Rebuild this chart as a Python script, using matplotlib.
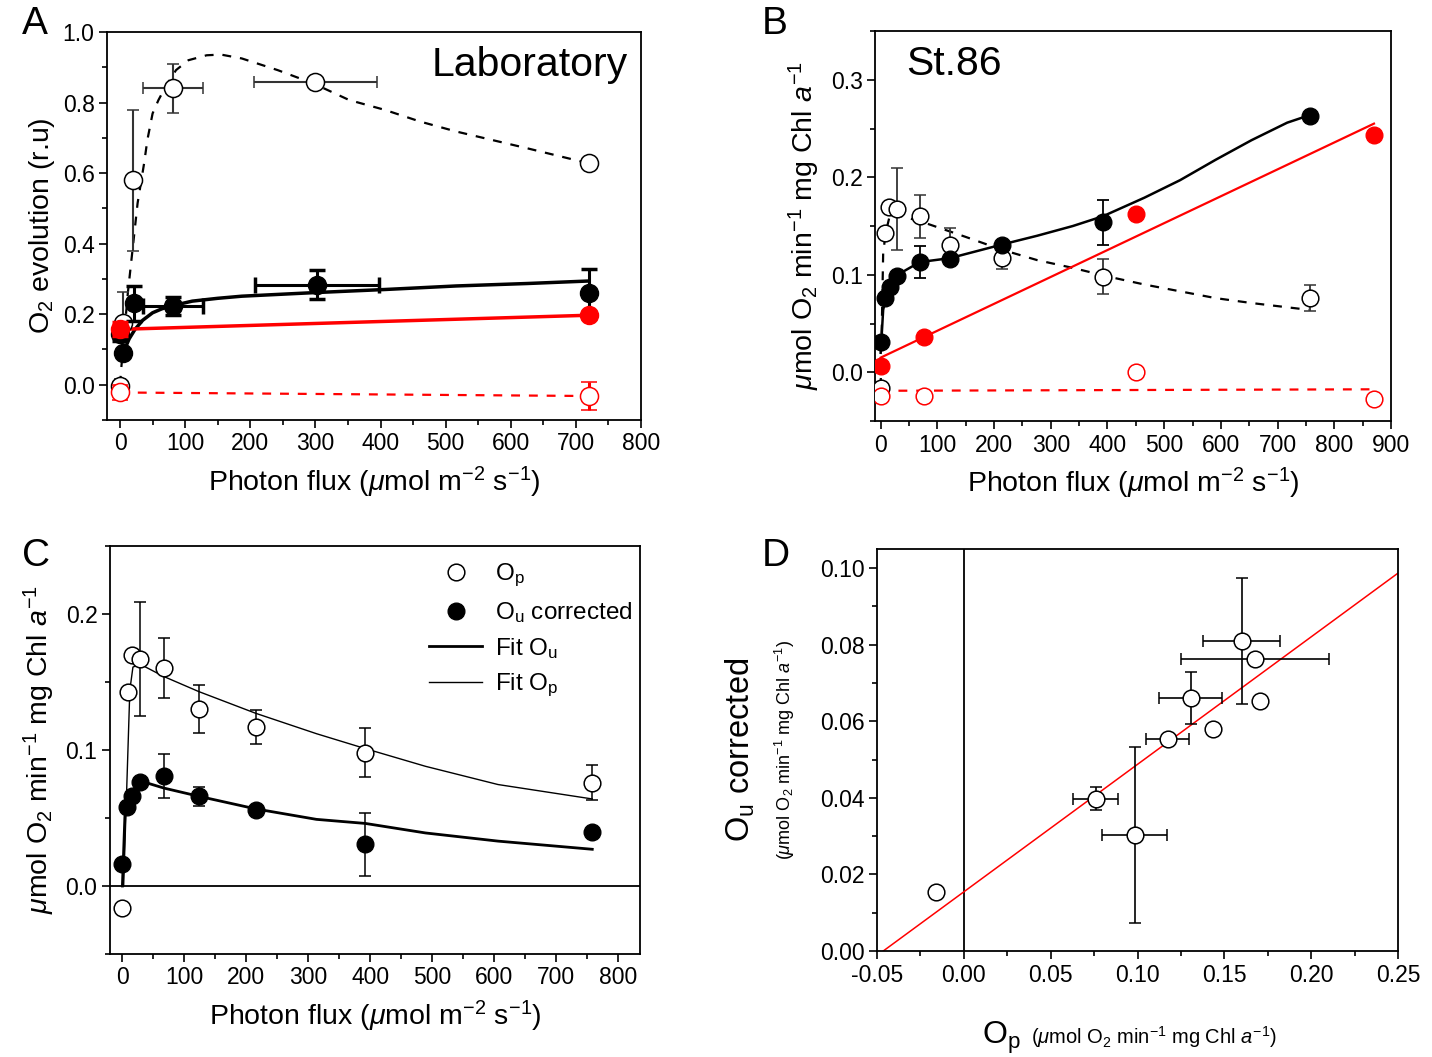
import matplotlib
matplotlib.use("Agg")
import matplotlib.pyplot as plt
from matplotlib.ticker import MultipleLocator

plt.rcParams['font.family'] = ['Liberation Sans', 'DejaVu Sans']
plt.rcParams['mathtext.fontset'] = 'custom'
plt.rcParams['mathtext.rm'] = 'Liberation Sans'
plt.rcParams['mathtext.it'] = 'Liberation Sans:italic'
plt.rcParams['mathtext.default'] = 'regular'

# ----------------------- panel A (laboratory, relative units)
a_open_x = [0, 5, 20, 82, 300, 720]
a_open_y = [-0.005, 0.174, 0.58, 0.84, 0.857, 0.63]
a_open_yerr = [0.02, 0.09, 0.2, 0.07, 0.01, 0.01]
a_open_xerr = [0, 0, 0, 46, 95, 5]
a_fill_x = [0, 5, 21, 82, 302, 720]
a_fill_y = [0.143, 0.091, 0.231, 0.223, 0.284, 0.259]
a_fill_yerr = [0.02, 0, 0.05, 0.025, 0.042, 0.07]
a_fill_xerr = [0, 0, 0, 46, 95, 0]
a_red_x = [0, 720]
a_red_y = [0.158, 0.197]
a_red_yerr = [0.02, 0.0]
a_redo_x = [0, 720]
a_redo_y = [-0.022, -0.033]
a_redo_yerr = [0.02, 0.04]

a_dash_x = [0, 2, 12, 27, 37, 42, 50, 59, 70, 86, 105, 133, 155, 187, 242, 297,
            352, 407, 461, 516, 571, 626, 719]
a_dash_y = [0.0, 0.049, 0.26, 0.515, 0.628, 0.694, 0.769, 0.807, 0.845, 0.892, 0.92,
            0.934, 0.936, 0.925, 0.892, 0.854, 0.807, 0.779, 0.746, 0.718, 0.694,
            0.670, 0.628]
a_fit_x = [5, 7, 14, 23, 35, 50, 64, 78, 111, 150, 187, 297, 407, 516, 626, 719]
a_fit_y = [0.07, 0.10, 0.13, 0.157, 0.183, 0.204, 0.215, 0.223, 0.237, 0.245, 0.251,
           0.261, 0.270, 0.280, 0.287, 0.294]
a_redfit_x = [0, 720]
a_redfit_y = [0.157, 0.197]
a_reddash_x = [0, 720]
a_reddash_y = [-0.022, -0.032]

# ----------------------- panel B (St.86)
b_fill_x = [0, 7.6, 16, 28, 69, 122, 214, 392, 758]
b_fill_y = [0.031, 0.076, 0.087, 0.099, 0.113, 0.116, 0.131, 0.154, 0.263]
b_fill_yerr = [0, 0, 0, 0, 0.016, 0, 0, 0.023, 0]
b_open_x = [0, 7.6, 15, 28, 69, 122, 214, 392, 758]
b_open_y = [-0.016, 0.143, 0.170, 0.167, 0.160, 0.131, 0.117, 0.098, 0.076]
b_open_yerr = [0.004, 0.004, 0, 0.042, 0.022, 0.0165, 0.011, 0.018, 0.013]
b_red_x = [0, 76, 450, 870]
b_red_y = [0.006, 0.036, 0.162, 0.243]
b_redo_x = [0, 76, 450, 870]
b_redo_y = [-0.024, -0.024, 0.0, -0.027]

b_fit_x = [0, 4.4, 14, 30, 69, 122, 214, 276, 339, 392, 465, 528, 591, 654, 717, 758]
b_fit_y = [0.02, 0.064, 0.088, 0.100, 0.113, 0.117, 0.131, 0.140, 0.150, 0.160,
           0.179, 0.197, 0.218, 0.238, 0.256, 0.264]
b_dash_x = [0, 4.4, 8.8, 17, 69, 149, 212, 276, 339, 402, 465, 528, 591, 654, 755]
b_dash_y = [-0.015, 0.122, 0.143, 0.163, 0.155, 0.139, 0.126, 0.115, 0.107, 0.098,
            0.090, 0.083, 0.076, 0.071, 0.064]
b_redfit_x = [0, 870]
b_redfit_y = [0.015, 0.255]
b_reddash_x = [0, 862]
b_reddash_y = [-0.019, -0.0175]

# ----------------------- panel C (Op and Ou corrected)
c_op_x = [0, 8.8, 16, 29, 67, 123, 215, 392, 758]
c_op_y = [-0.016, 0.143, 0.170, 0.167, 0.160, 0.130, 0.117, 0.098, 0.076]
c_op_yerr = [0, 0, 0, 0.042, 0.022, 0.0175, 0.0125, 0.018, 0.013]
c_ou_x = [0, 7.6, 16, 29, 67, 123, 215, 392, 758]
c_ou_y = [0.016, 0.058, 0.066, 0.0765, 0.081, 0.066, 0.0557, 0.0306, 0.040]
c_ou_yerr = [0, 0, 0, 0, 0.016, 0.007, 0, 0.023, 0]

c_fitop_x = [2, 12, 17, 29, 67, 123, 215, 313, 392, 489, 606, 758]
c_fitop_y = [0.0, 0.144, 0.161, 0.163, 0.154, 0.143, 0.127, 0.112, 0.101, 0.088,
             0.0746, 0.064]
c_fitou_x = [0, 4, 7.6, 16, 38, 67, 123, 215, 313, 392, 489, 606, 758]
c_fitou_y = [0.0, 0.051, 0.059, 0.067, 0.076, 0.072, 0.066, 0.0567, 0.049, 0.046,
             0.039, 0.033, 0.027]

# ----------------------- panel D (Ou vs Op)
d_x = [-0.0162, 0.0759, 0.0983, 0.1173, 0.1306, 0.1435, 0.160, 0.1678, 0.1705]
d_y = [0.0155, 0.0398, 0.0303, 0.0555, 0.0661, 0.0579, 0.0809, 0.0763, 0.0653]
d_xerr = [0, 0.013, 0.0185, 0.0125, 0.018, 0, 0.022, 0.0425, 0]
d_yerr = [0, 0.003, 0.023, 0.001, 0.0068, 0, 0.0164, 0.001, 0]
d_fit_x = [-0.0464, 0.25]
d_fit_y = [0.0, 0.0987]

UNIT = r'$\mathit{\mu}$mol O$_2$ min$^{-1}$ mg Chl $\mathit{a}^{-1}$'
FLUX = r'Photon flux ($\mathit{\mu}$mol m$^{-2}$ s$^{-1}$)'
TICK_FS = 16.5
LAB_FS = 20.5


def style_axis(ax, xmaj, xmin, ymaj, ymin):
    ax.xaxis.set_major_locator(MultipleLocator(xmaj))
    ax.xaxis.set_minor_locator(MultipleLocator(xmin))
    ax.yaxis.set_major_locator(MultipleLocator(ymaj))
    ax.yaxis.set_minor_locator(MultipleLocator(ymin))
    ax.tick_params(which='both', direction='out', top=False, right=False,
                   labelsize=TICK_FS)
    ax.tick_params(which='major', length=6, width=1.2, pad=3)
    ax.tick_params(which='minor', length=3.5, width=1.2)
    for s in ax.spines.values():
        s.set_linewidth(1.3)


def panel_a(ax):
    ax.plot(a_dash_x, a_dash_y, 'k--', lw=1.6, dashes=(4, 4), zorder=2)
    ax.plot(a_fit_x, a_fit_y, 'k-', lw=2.5, zorder=2)
    ax.plot(a_redfit_x, a_redfit_y, '-', color='red', lw=2.5, zorder=2)
    ax.plot(a_reddash_x, a_reddash_y, '--', color='red', lw=1.6, dashes=(4, 4), zorder=2)
    ax.errorbar(a_open_x, a_open_y, yerr=a_open_yerr, xerr=a_open_xerr, fmt='o',
                mfc='white', mec='black', ms=13, mew=1.1, ecolor='#333333',
                elinewidth=1.5, capsize=4, capthick=1.5, zorder=3)
    ax.errorbar(a_fill_x, a_fill_y, yerr=a_fill_yerr, xerr=a_fill_xerr, fmt='o',
                color='black', ms=13, elinewidth=2.2, capsize=6, capthick=2.5, zorder=4)
    ax.errorbar(a_redo_x, a_redo_y, yerr=a_redo_yerr, fmt='o', mfc='white',
                mec='red', ecolor='red', ms=13, mew=1.1, elinewidth=2.2, capsize=6,
                capthick=2.5, zorder=4)
    ax.errorbar(a_red_x, a_red_y, yerr=a_red_yerr, fmt='o', color='red', ms=13,
                elinewidth=2.2, capsize=6, capthick=2.5, zorder=5)
    ax.set_xlim(-20, 800)
    ax.set_ylim(-0.1, 1.0)
    style_axis(ax, 100, 50, 0.2, 0.1)
    ax.set_xlabel(FLUX, fontsize=LAB_FS, labelpad=7)
    ax.set_ylabel('O$_2$ evolution (r.u)', fontsize=LAB_FS, labelpad=4)
    ax.text(0.975, 0.965, 'Laboratory', transform=ax.transAxes, ha='right', va='top',
            fontsize=29.5)


def panel_b(ax):
    ax.plot(b_dash_x, b_dash_y, 'k--', lw=1.6, dashes=(4, 4), zorder=2)
    ax.plot(b_fit_x, b_fit_y, 'k-', lw=1.8, zorder=2)
    ax.plot(b_redfit_x, b_redfit_y, '-', color='red', lw=1.6, zorder=2)
    ax.plot(b_reddash_x, b_reddash_y, '--', color='red', lw=1.6, dashes=(4, 4), zorder=2)
    ax.errorbar(b_open_x, b_open_y, yerr=b_open_yerr, fmt='o', mfc='white',
                mec='black', ms=12, mew=1.1, ecolor='#333333', elinewidth=1.3,
                capsize=4, capthick=1.3, zorder=3)
    ax.errorbar(b_fill_x, b_fill_y, yerr=b_fill_yerr, fmt='o', color='black', ms=12,
                elinewidth=1.3, capsize=4, capthick=1.3, zorder=4)
    ax.plot(b_redo_x, b_redo_y, 'o', mfc='white', mec='red', ms=12, mew=1.1, zorder=4)
    ax.plot(b_red_x, b_red_y, 'o', color='red', ms=12, zorder=5)
    ax.set_xlim(-10, 900)
    ax.set_ylim(-0.05, 0.35)
    style_axis(ax, 100, 50, 0.1, 0.05)
    ax.set_xlabel(FLUX, fontsize=LAB_FS, labelpad=7)
    ax.set_ylabel(UNIT, fontsize=LAB_FS, labelpad=6)
    ax.text(0.06, 0.965, 'St.86', transform=ax.transAxes, ha='left', va='top',
            fontsize=29.5)


def panel_c(ax):
    ax.axhline(0, color='black', lw=1.3, zorder=1)
    fu, = ax.plot(c_fitou_x, c_fitou_y, 'k-', lw=2.0, zorder=2)
    fp, = ax.plot(c_fitop_x, c_fitop_y, 'k-', lw=1.0, zorder=2)
    eo = ax.errorbar(c_op_x, c_op_y, yerr=c_op_yerr, fmt='o', mfc='white', mec='black',
                     ms=12, mew=1.1, ecolor='black', elinewidth=1.1, capsize=4,
                     capthick=1.1, zorder=3)
    ef = ax.errorbar(c_ou_x, c_ou_y, yerr=c_ou_yerr, fmt='o', color='black', ms=12,
                     elinewidth=1.1, capsize=4, capthick=1.1, zorder=4)
    ax.legend([eo[0], ef[0], fu, fp],
              ['O$_p$', 'O$_u$ corrected', 'Fit O$_u$', 'Fit O$_p$'],
              loc='upper right', bbox_to_anchor=(1.017, 1.003), frameon=False,
              fontsize=17.5, handlelength=2.2, handletextpad=0.5, labelspacing=0.45,
              borderaxespad=0.3)
    ax.set_xlim(-20, 835)
    ax.set_ylim(-0.05, 0.25)
    style_axis(ax, 100, 50, 0.1, 0.05)
    ax.set_xlabel(FLUX, fontsize=LAB_FS, labelpad=7)
    ax.set_ylabel(UNIT, fontsize=LAB_FS, labelpad=6)


def panel_d(ax):
    ax.axvline(0, color='black', lw=1.3, zorder=1)
    ax.plot(d_fit_x, d_fit_y, '-', color='red', lw=1.1, zorder=2)
    ax.errorbar(d_x, d_y, yerr=d_yerr, xerr=d_xerr, fmt='o', mfc='white', mec='black',
                ms=12, mew=1.1, ecolor='black', elinewidth=1.2, capsize=4,
                capthick=1.2, zorder=3)
    ax.set_xlim(-0.05, 0.25)
    ax.set_ylim(0, 0.105)
    style_axis(ax, 0.05, 0.025, 0.02, 0.01)
    ax.xaxis.set_major_formatter(plt.FuncFormatter(lambda v, p: f'{v:.2f}'))
    ax.yaxis.set_major_formatter(plt.FuncFormatter(lambda v, p: f'{v:.2f}'))
    # two-part axis titles, big symbol + small unit
    ax.text(-0.262, 0.5, 'O$_u$ corrected', transform=ax.transAxes, rotation=90,
            ha='center', va='center', fontsize=23.5)
    ax.text(-0.177, 0.5, '(' + UNIT + ')', transform=ax.transAxes, rotation=90,
            ha='center', va='center', fontsize=13)
    ax.text(0.275, -0.232, 'O$_p$', transform=ax.transAxes, ha='right', va='baseline',
            fontsize=23)
    ax.text(0.295, -0.232, '(' + UNIT + ')', transform=ax.transAxes, ha='left',
            va='baseline', fontsize=14.5)


if __name__ == "__main__":
    W, H = 1432, 1057
    fig = plt.figure(figsize=(W / 100, H / 100), dpi=100)

    def box(l, t, r, b):
        return [l / W, 1 - b / H, (r - l) / W, (b - t) / H]

    axA = fig.add_axes(box(107, 32, 641, 420))
    axB = fig.add_axes(box(875, 31, 1391, 421))
    axC = fig.add_axes(box(110, 546, 640, 954))
    axD = fig.add_axes(box(877, 549, 1398, 951))

    panel_a(axA)
    panel_b(axB)
    panel_c(axC)
    panel_d(axD)

    for lab, x, y in [('A', 22, 6), ('B', 762, 6), ('C', 22, 538), ('D', 762, 538)]:
        fig.text(x / W, 1 - y / H, lab, fontsize=28, ha='left', va='top')

    fig.savefig('out.png', dpi=100)
